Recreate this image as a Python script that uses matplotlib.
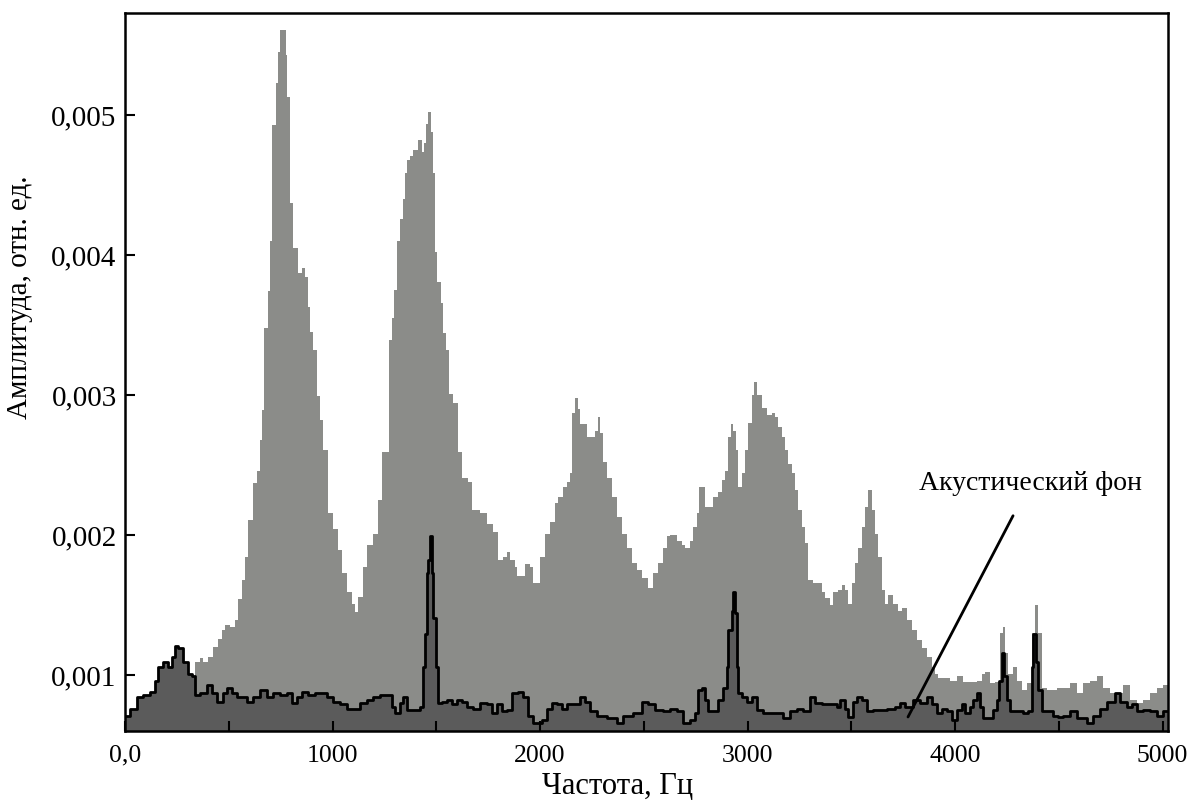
import matplotlib
matplotlib.use("Agg")
import matplotlib.pyplot as plt
from matplotlib.ticker import FixedLocator, FuncFormatter

plt.rcParams['font.family'] = ['Liberation Serif', 'DejaVu Serif']

# signal spectrum (light gray), frequency in Hz, amplitude in 1e-3 rel. units
sig_freq = [337, 361, 376, 400, 424, 448, 467, 482, 506, 530, 545, 564, 578, 593, 617, 636, 651, 660,
            670, 688, 699, 708, 728, 737, 747, 761, 774, 781, 795, 810, 834, 853, 867, 882, 892, 906,
            925, 940, 954, 978, 1002, 1026, 1046, 1070, 1094, 1108, 1123, 1147, 1166, 1195, 1219, 1238,
            1272, 1287, 1296, 1311, 1325, 1340, 1349, 1359, 1373, 1388, 1407, 1412, 1431, 1441, 1451, 1460,
            1475, 1484, 1494, 1504, 1523, 1532, 1547, 1561, 1581, 1605, 1624, 1653, 1672, 1711, 1744, 1773,
            1798, 1822, 1841, 1855, 1879, 1889, 1928, 1952, 1966, 2000, 2024, 2048, 2072, 2087, 2111, 2130,
            2144, 2154, 2169, 2183, 2193, 2207, 2226, 2241, 2265, 2279, 2289, 2303, 2323, 2347, 2371, 2395,
            2419, 2443, 2467, 2491, 2520, 2544, 2569, 2593, 2612, 2626, 2660, 2684, 2699, 2723, 2737, 2756,
            2766, 2781, 2795, 2819, 2834, 2858, 2877, 2891, 2906, 2920, 2930, 2944, 2954, 2973, 2988, 3002,
            3022, 3031, 3046, 3070, 3094, 3118, 3132, 3147, 3166, 3181, 3195, 3214, 3229, 3243, 3262, 3277,
            3291, 3316, 3340, 3359, 3373, 3397, 3412, 3436, 3455, 3470, 3484, 3504, 3518, 3532, 3552, 3566,
            3581, 3600, 3614, 3629, 3648, 3662, 3677, 3701, 3725, 3744, 3768, 3793, 3817, 3841, 3865, 3889,
            3903, 3918, 3976, 4009, 4038, 4106, 4130, 4144, 4168, 4193, 4217, 4231, 4241, 4255, 4279, 4299,
            4323, 4347, 4371, 4385, 4400, 4419, 4443, 4491, 4554, 4588, 4617, 4650, 4684, 4713, 4747, 4781,
            4809, 4843, 4877, 4906, 4939, 4973, 5002, 5030]
sig_amp = [1.09, 1.12, 1.09, 1.13, 1.20, 1.26, 1.32, 1.36, 1.34, 1.39, 1.54, 1.68, 1.84, 2.11, 2.37, 2.46, 2.68, 2.89,
           3.48, 3.74, 4.10, 4.93, 5.23, 5.45, 5.61, 5.61, 5.43, 5.13, 4.37, 4.05, 3.87, 3.91, 3.84, 3.63, 3.45, 3.32,
           2.99, 2.82, 2.61, 2.16, 2.04, 1.89, 1.73, 1.59, 1.51, 1.45, 1.56, 1.77, 1.93, 2.01, 2.25, 2.59,
           3.39, 3.55, 3.75, 4.10, 4.26, 4.40, 4.59, 4.68, 4.71, 4.75, 4.75, 4.82, 4.74, 4.80, 4.94, 5.02,
           4.88, 4.59, 4.02, 3.81, 3.66, 3.44, 3.32, 3.01, 2.94, 2.59, 2.41, 2.38, 2.18, 2.16, 2.08, 2.02,
           1.82, 1.84, 1.88, 1.82, 1.77, 1.71, 1.79, 1.77, 1.66, 1.84, 2.01, 2.09, 2.23, 2.27, 2.34, 2.38,
           2.44, 2.87, 2.98, 2.90, 2.79, 2.79, 2.70, 2.70, 2.74, 2.84, 2.73, 2.52, 2.41, 2.27, 2.13, 2.01,
           1.91, 1.80, 1.75, 1.69, 1.62, 1.73, 1.80, 1.91, 1.99, 2.00, 1.96, 1.93, 1.91, 1.96, 2.06, 2.16,
           2.34, 2.34, 2.20, 2.20, 2.27, 2.31, 2.39, 2.46, 2.70, 2.79, 2.74, 2.61, 2.34, 2.44, 2.61, 2.80,
           3.00, 3.09, 3.00, 2.91, 2.86, 2.87, 2.84, 2.77, 2.70, 2.61, 2.51, 2.44, 2.32, 2.18, 2.06, 1.94,
           1.68, 1.66, 1.66, 1.59, 1.55, 1.50, 1.59, 1.61, 1.64, 1.61, 1.51, 1.66, 1.80, 1.91, 2.06, 2.20,
           2.32, 2.18, 2.01, 1.84, 1.61, 1.51, 1.57, 1.51, 1.46, 1.48, 1.39, 1.32, 1.25, 1.19, 1.13, 1.06,
           1.01, 0.98, 0.96, 0.99, 0.95, 0.96, 1.01, 1.02, 0.94, 0.95, 1.30, 1.34, 1.16, 1.01, 1.06, 0.96,
           0.89, 0.94, 1.30, 1.50, 1.30, 0.91, 0.89, 0.91, 0.94, 0.87, 0.94, 0.96, 0.99, 0.91, 0.87, 0.87,
           0.93, 0.82, 0.80, 0.82, 0.87, 0.91, 0.93, 0.93]

# acoustic background (dark gray)
bg_freq = [0, 24, 58, 87, 120, 145, 159, 183, 207, 226, 241, 255, 280, 304, 323, 337, 361, 395, 419, 443,
           472, 492, 516, 540, 588, 617, 651, 684, 713, 747, 781, 805, 829, 853, 882, 916, 940, 973, 1002,
           1036, 1070, 1099, 1133, 1166, 1195, 1229, 1263, 1287, 1301, 1325, 1340, 1359, 1388, 1422, 1436,
           1446, 1455, 1460, 1470, 1479, 1484, 1499, 1508, 1528, 1552, 1576, 1600, 1624, 1648, 1677, 1711,
           1744, 1769, 1793, 1817, 1841, 1865, 1894, 1918, 1942, 1966, 2010, 2034, 2058, 2082, 2106, 2130,
           2159, 2193, 2217, 2241, 2275, 2323, 2371, 2400, 2448, 2491, 2520, 2554, 2593, 2626, 2660, 2689,
           2723, 2747, 2761, 2781, 2795, 2810, 2834, 2858, 2882, 2901, 2906, 2925, 2930, 2940, 2949, 2954,
           2973, 2997, 3022, 3046, 3075, 3142, 3171, 3205, 3238, 3267, 3301, 3325, 3359, 3397, 3431, 3446,
           3470, 3484, 3508, 3528, 3552, 3576, 3605, 3638, 3672, 3711, 3735, 3759, 3797, 3831, 3865, 3889,
           3913, 3937, 3961, 3985, 4009, 4033, 4048, 4072, 4086, 4106, 4120, 4135, 4159, 4183, 4202, 4212,
           4226, 4236, 4250, 4265, 4327, 4352, 4371, 4376, 4390, 4400, 4419, 4448, 4472, 4496, 4520, 4554,
           4588, 4636, 4665, 4698, 4732, 4771, 4795, 4829, 4853, 4877, 4906, 4939, 4973, 5002, 5030]
bg_amp = [0.71, 0.76, 0.84, 0.86, 0.88, 0.96, 1.06, 1.09, 1.06, 1.13, 1.21, 1.19, 1.09, 1.01, 0.99, 0.86, 0.87, 0.93, 0.87, 0.81,
          0.87, 0.91, 0.87, 0.84, 0.81, 0.84, 0.89, 0.84, 0.87, 0.86, 0.87, 0.80, 0.84, 0.88, 0.86, 0.87, 0.87, 0.84, 0.81,
          0.79, 0.76, 0.76, 0.80, 0.82, 0.84, 0.86, 0.86, 0.77, 0.73, 0.80, 0.84, 0.75, 0.75, 0.77, 1.06,
          1.29, 1.73, 1.82, 1.99, 1.73, 1.41, 1.06, 0.80, 0.81, 0.82, 0.79, 0.82, 0.81, 0.77, 0.76, 0.80,
          0.79, 0.73, 0.79, 0.74, 0.75, 0.87, 0.88, 0.84, 0.71, 0.66, 0.68, 0.76, 0.80, 0.79, 0.76, 0.79,
          0.79, 0.84, 0.81, 0.74, 0.71, 0.69, 0.66, 0.71, 0.73, 0.81, 0.79, 0.75, 0.74, 0.76, 0.74, 0.66,
          0.68, 0.73, 0.89, 0.91, 0.82, 0.74, 0.74, 0.82, 0.91, 1.06, 1.32, 1.46, 1.59, 1.44, 1.06, 0.87,
          0.84, 0.81, 0.84, 0.75, 0.73, 0.73, 0.69, 0.74, 0.76, 0.74, 0.84, 0.80, 0.79, 0.79, 0.77, 0.82,
          0.76, 0.70, 0.81, 0.84, 0.82, 0.74, 0.75, 0.75, 0.76, 0.77, 0.80, 0.77, 0.82, 0.80, 0.84, 0.79,
          0.73, 0.76, 0.74, 0.68, 0.75, 0.79, 0.73, 0.77, 0.82, 0.87, 0.77, 0.69, 0.69, 0.75, 0.82, 0.96,
          1.16, 0.99, 0.82, 0.74, 0.73, 0.74, 1.06, 1.29, 1.09, 0.89, 0.74, 0.74, 0.71, 0.70, 0.71, 0.74,
          0.69, 0.66, 0.71, 0.76, 0.81, 0.87, 0.81, 0.77, 0.79, 0.74, 0.75, 0.74, 0.71, 0.74, 0.74]

x_ticks = [0, 1000, 2000, 3000, 4000, 5000]
x_labels = ['0,0', '1000', '2000', '3000', '4000', '5000']
y_ticks = [0.001, 0.002, 0.003, 0.004, 0.005]
note_text = 'Акустический фон'

sig_y = [a * 1e-3 for a in sig_amp]
bg_y = [a * 1e-3 for a in bg_amp]

fig = plt.figure(figsize=(11.88, 8), dpi=100)
ax = fig.add_axes([0.1052, 0.0863, 0.878, 0.8975])

ax.fill_between(sig_freq, sig_y, 0, step='post', color='#8b8c89', lw=0)
ax.fill_between(bg_freq, bg_y, 0, step='post', color='#5b5b5b', lw=0)
ax.step(bg_freq, bg_y, where='post', color='black', lw=2)

ax.set_xlim(0, 5026)
ax.set_ylim(0.0006, 0.00573)

ax.xaxis.set_major_locator(FixedLocator(x_ticks))
ax.xaxis.set_minor_locator(FixedLocator([500, 1500, 2500, 3500, 4500]))
ax.set_xticklabels(x_labels)
ax.yaxis.set_major_locator(FixedLocator(y_ticks))
ax.yaxis.set_major_formatter(FuncFormatter(lambda v, p: ('%.3f' % v).replace('.', ',')))

ax.tick_params(axis='both', which='both', direction='in', width=1.5)
ax.tick_params(axis='x', which='both', pad=10, labelsize=18.5)
ax.tick_params(axis='y', which='both', pad=6, labelsize=21)
ax.tick_params(axis='both', which='major', length=7)
ax.tick_params(axis='x', which='minor', length=7)
for s in ax.spines.values():
    s.set_linewidth(1.8)

ax.set_xlabel('Частота, Гц', fontsize=22)
ax.xaxis.set_label_coords(0.472, -0.057)
ax.set_ylabel('Амплитуда, отн. ед.', fontsize=21)
ax.yaxis.set_label_coords(-0.088, 0.604)

ax.annotate(note_text, xy=(3773, 0.00070), xytext=(4361, 0.00237),
            fontsize=20, ha='center', va='center',
            arrowprops=dict(arrowstyle='-', color='black', lw=2, shrinkA=14, shrinkB=0))

fig.savefig('out.png', dpi=100)
